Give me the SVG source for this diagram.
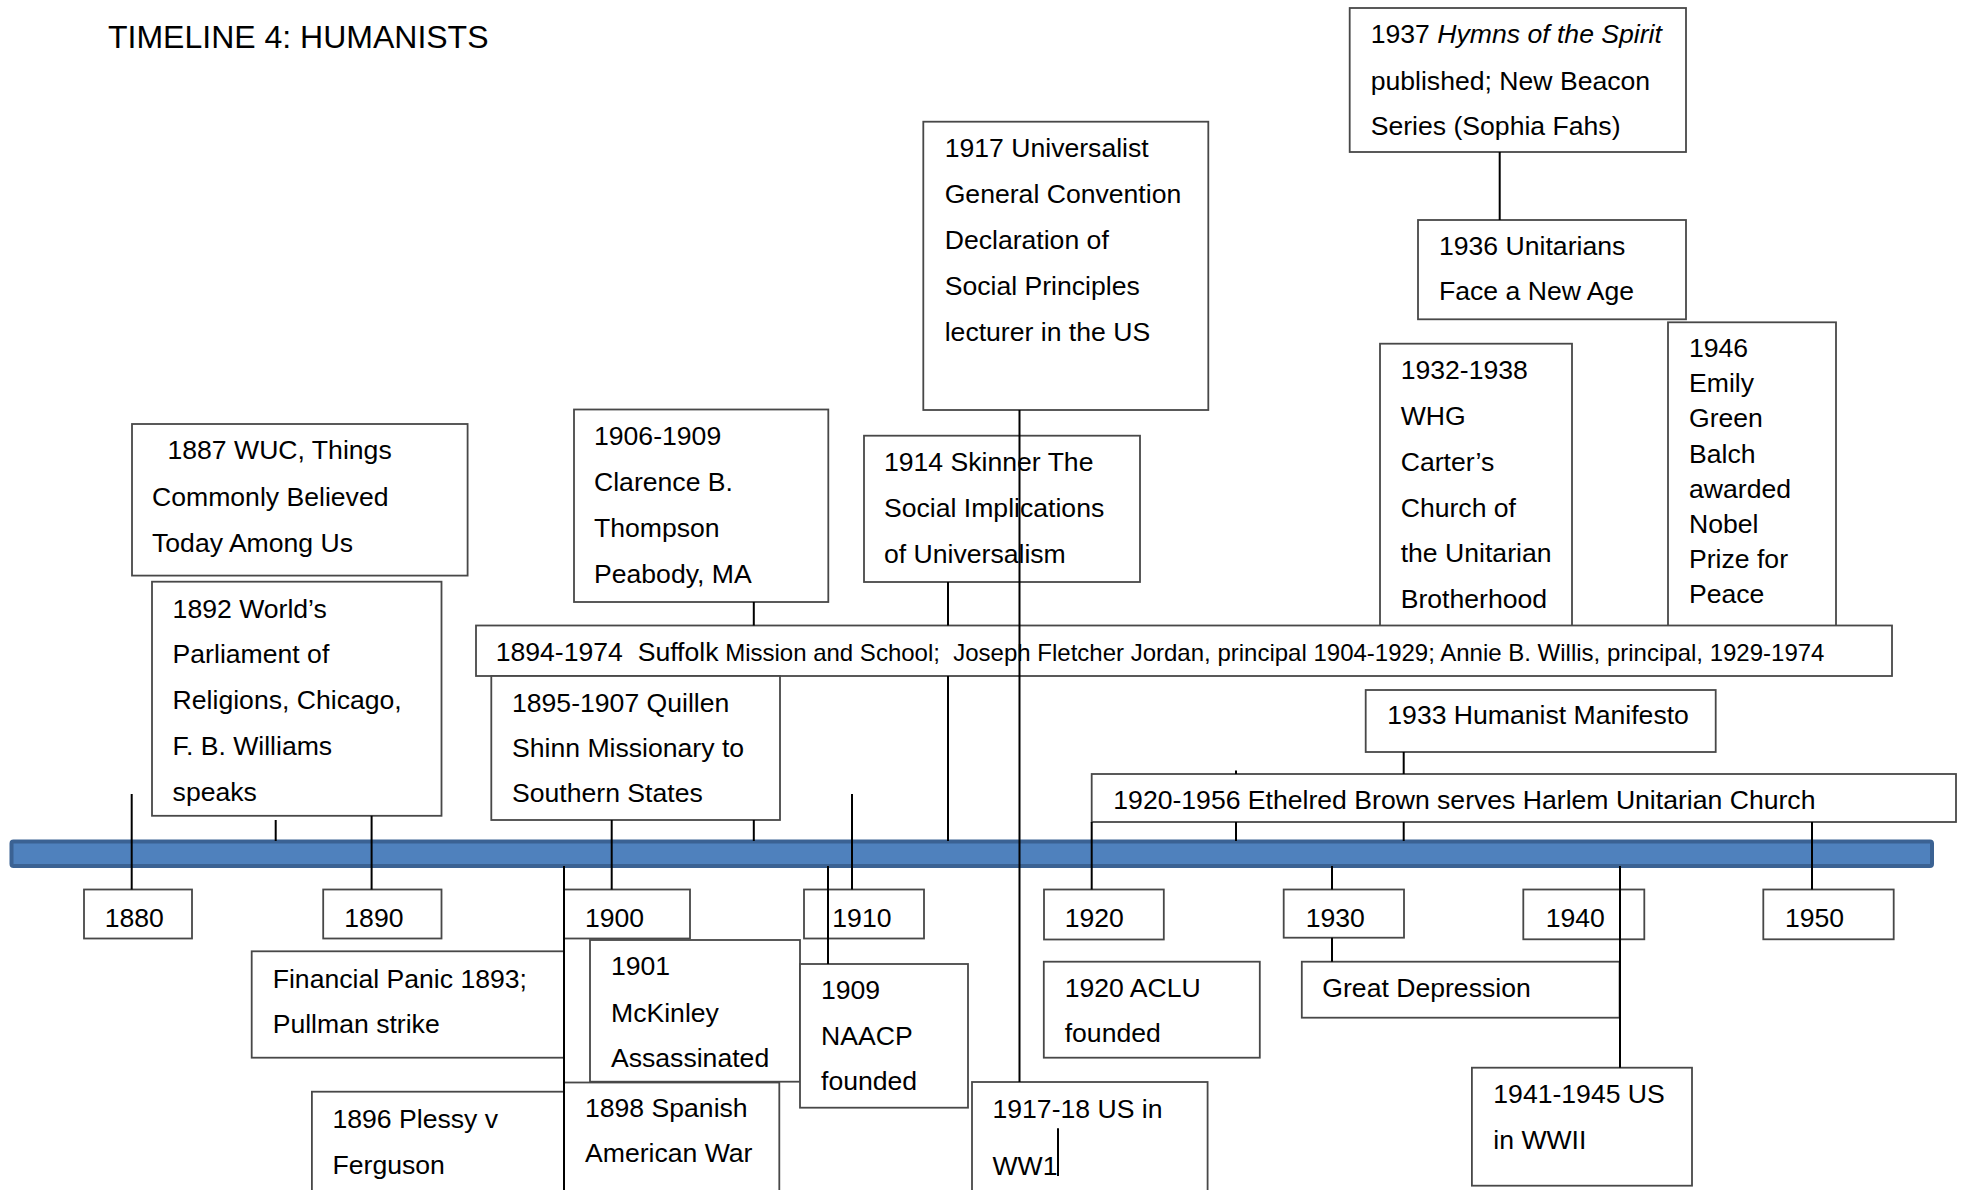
<svg xmlns="http://www.w3.org/2000/svg" width="1965" height="1190" viewBox="0 0 1965 1190">
<style>
text{font-family:"Liberation Sans",Arial,sans-serif;font-size:26.6px;fill:#000}
.box{fill:#fff;stroke:#484848;stroke-width:1.8}
.c{stroke:#000;stroke-width:2;fill:none}
.small{font-size:24px}
.title{font-size:32px}
</style>
<rect width="1965" height="1190" fill="#fff"/>
<text class="title" x="108" y="48">TIMELINE 4: HUMANISTS</text>

<g id="bar"><rect x="11.5" y="841.5" width="1920.5" height="24.5" rx="2" fill="#4F81BD" stroke="#3B6293" stroke-width="4"/></g>

<g id="n1887"><rect class="box" x="132" y="424" width="335.6" height="151.6"/>
<text x="167.5" y="459">1887 WUC, Things</text><text x="152" y="506">Commonly Believed</text><text x="152" y="552">Today Among Us</text></g>

<g id="n1892"><rect class="box" x="152" y="581.7" width="289.5" height="234.1"/>
<text x="172.6" y="617.6">1892 World’s</text><text x="172.6" y="663">Parliament of</text><text x="172.6" y="708.6">Religions, Chicago,</text><text x="172.6" y="754.6">F. B. Williams</text><text x="172.6" y="800.5">speaks</text></g>

<g id="n1906"><rect class="box" x="574" y="409.5" width="254.3" height="192.5"/>
<text x="594" y="445">1906-1909</text><text x="594" y="491">Clarence B.</text><text x="594" y="537">Thompson</text><text x="594" y="583">Peabody, MA</text></g>

<g id="n1914"><rect class="box" x="864" y="435.7" width="276" height="146.3"/>
<text x="884" y="471">1914 Skinner The</text><text x="884" y="517">Social Implications</text><text x="884" y="563">of Universalism</text></g>

<g id="n1917"><rect class="box" x="923.3" y="121.7" width="285" height="288.3"/>
<text x="944.7" y="156.7">1917 Universalist</text><text x="944.7" y="202.7">General Convention</text><text x="944.7" y="249">Declaration of</text><text x="944.7" y="295">Social Principles</text><text x="944.7" y="340.7">lecturer in the US</text></g>

<g id="n1937"><rect class="box" x="1349.7" y="8" width="336.3" height="144"/>
<text x="1370.7" y="43.3">1937 <tspan font-style="italic">Hymns of the Spirit</tspan></text><text x="1370.7" y="90">published; New Beacon</text><text x="1370.7" y="135">Series (Sophia Fahs)</text></g>

<g id="n1936"><rect class="box" x="1418" y="220" width="268" height="99.3"/>
<text x="1439" y="255">1936 Unitarians</text><text x="1439" y="300">Face a New Age</text></g>

<g id="n1932"><rect class="box" x="1380" y="343.7" width="192" height="282.3"/>
<text x="1400.7" y="379.3">1932-1938</text><text x="1400.7" y="425">WHG</text><text x="1400.7" y="470.7">Carter’s</text><text x="1400.7" y="516.7">Church of</text><text x="1400.7" y="562.3">the Unitarian</text><text x="1400.7" y="608.3">Brotherhood</text></g>

<g id="n1946"><rect class="box" x="1668" y="322.3" width="168" height="303.7"/>
<text x="1689" y="356.7">1946</text><text x="1689" y="392.3">Emily</text><text x="1689" y="427.3">Green</text><text x="1689" y="463.3">Balch</text><text x="1689" y="498.3">awarded</text><text x="1689" y="533.3">Nobel</text><text x="1689" y="568.3">Prize for</text><text x="1689" y="603.3">Peace</text></g>

<g id="n1894"><rect class="box" x="476" y="625.5" width="1416" height="50.5"/>
<text x="495.7" y="660.5" xml:space="preserve">1894-1974  Suffolk<tspan class="small"> Mission and School;  Joseph Fletcher Jordan, principal 1904-1929; Annie B. Willis, principal, 1929-1974</tspan></text></g>

<g id="n1895"><rect class="box" x="491.3" y="676" width="288.7" height="144"/>
<text x="512" y="711.7">1895-1907 Quillen</text><text x="512" y="756.7">Shinn Missionary to</text><text x="512" y="802.3">Southern States</text></g>

<g id="n1933"><rect class="box" x="1365.7" y="690" width="350" height="62"/>
<text x="1387.3" y="724.3">1933 Humanist Manifesto</text></g>

<g id="n1920b"><rect class="box" x="1091.7" y="774" width="864.3" height="48"/>
<text x="1113.3" y="809.3">1920-1956 Ethelred Brown serves Harlem Unitarian Church</text></g>

<g id="y1880"><rect class="box" x="84" y="889.5" width="108" height="49"/><text x="104.7" y="926.8">1880</text></g>
<g id="y1890"><rect class="box" x="323.2" y="889.5" width="118.3" height="49"/><text x="344.3" y="926.8">1890</text></g>
<g id="y1900"><rect class="box" x="564" y="889.5" width="126" height="49"/><text x="585" y="926.8">1900</text></g>
<g id="y1910"><rect class="box" x="804" y="889.5" width="120" height="49"/><text x="832.3" y="926.8">1910</text></g>
<g id="y1920"><rect class="box" x="1044" y="889.5" width="119.8" height="50"/><text x="1064.7" y="926.8">1920</text></g>
<g id="y1930"><rect class="box" x="1283.7" y="889.5" width="120.3" height="48.2"/><text x="1305.7" y="926.8">1930</text></g>
<g id="y1940"><rect class="box" x="1523.3" y="889.5" width="121" height="49.8"/><text x="1545.7" y="926.8">1940</text></g>
<g id="y1950"><rect class="box" x="1763.3" y="889.5" width="130.4" height="49.8"/><text x="1785" y="926.8">1950</text></g>

<g id="nPanic"><rect class="box" x="251.7" y="951.3" width="312.3" height="106.4"/>
<text x="272.7" y="988">Financial Panic 1893;</text><text x="272.7" y="1033.2">Pullman strike</text></g>

<g id="nPlessy"><rect class="box" x="311.9" y="1091.7" width="252.1" height="120"/>
<text x="332.5" y="1127.7">1896 Plessy v</text><text x="332.5" y="1173.6">Ferguson</text></g>

<g id="n1898"><rect class="box" x="564" y="1082.5" width="215.3" height="130"/>
<text x="585" y="1117">1898 Spanish</text><text x="585" y="1161.7">American War</text></g>

<g id="n1901"><rect class="box" x="590" y="940" width="210" height="141.7"/>
<text x="611" y="975">1901</text><text x="611" y="1021.7">McKinley</text><text x="611" y="1066.7">Assassinated</text></g>

<g id="n1909"><rect class="box" x="800" y="964" width="168" height="143.7"/>
<text x="821" y="999.3">1909</text><text x="821" y="1045">NAACP</text><text x="821" y="1090">founded</text></g>

<g id="nACLU"><rect class="box" x="1043.8" y="961.7" width="216" height="96"/>
<text x="1064.7" y="997.3">1920 ACLU</text><text x="1064.7" y="1042.3">founded</text></g>

<g id="nWW1"><rect class="box" x="972" y="1082" width="235.6" height="130"/>
<text x="992.5" y="1118">1917-18 US in</text><text x="992.5" y="1175.3">WW1</text></g>

<g id="nDepression"><rect class="box" x="1301.8" y="961.7" width="317.8" height="56"/>
<text x="1322.3" y="997.3">Great Depression</text></g>

<g id="nWW2"><rect class="box" x="1471.9" y="1067.7" width="220.1" height="118"/>
<text x="1493.3" y="1103.3">1941-1945 US</text><text x="1493.3" y="1149.3">in WWII</text></g>

<g id="connectors">
<line class="c" x1="131.7" y1="794" x2="131.7" y2="889.5"/>
<line class="c" x1="275.7" y1="820" x2="275.7" y2="841"/>
<line class="c" x1="371.6" y1="815.8" x2="371.6" y2="889.5"/>
<line class="c" x1="564" y1="866" x2="564" y2="1200"/>
<line class="c" x1="611.7" y1="820" x2="611.7" y2="889.5"/>
<line class="c" x1="753.8" y1="602" x2="753.8" y2="625.5"/>
<line class="c" x1="753.8" y1="820" x2="753.8" y2="841"/>
<line class="c" x1="828" y1="866" x2="828" y2="964"/>
<line class="c" x1="852" y1="794" x2="852" y2="889.5"/>
<line class="c" x1="948" y1="582" x2="948" y2="625.5"/>
<line class="c" x1="948" y1="676" x2="948" y2="841"/>
<line class="c" x1="1019.5" y1="410" x2="1019.5" y2="1082"/>
<line class="c" x1="1091.7" y1="822" x2="1091.7" y2="889.5"/>
<line class="c" x1="1236" y1="770.5" x2="1236" y2="774"/>
<line class="c" x1="1236" y1="822" x2="1236" y2="841"/>
<line class="c" x1="1332" y1="866" x2="1332" y2="889.5"/>
<line class="c" x1="1332" y1="937.7" x2="1332" y2="961.7"/>
<line class="c" x1="1403.7" y1="752" x2="1403.7" y2="774"/>
<line class="c" x1="1403.7" y1="822" x2="1403.7" y2="841"/>
<line class="c" x1="1499.7" y1="152" x2="1499.7" y2="220"/>
<line class="c" x1="1620" y1="866" x2="1620" y2="1067.7"/>
<line class="c" x1="1812" y1="822" x2="1812" y2="889.5"/>
<line class="c" x1="1058" y1="1128.3" x2="1058" y2="1176" stroke-width="1.5"/>
</g>
</svg>
